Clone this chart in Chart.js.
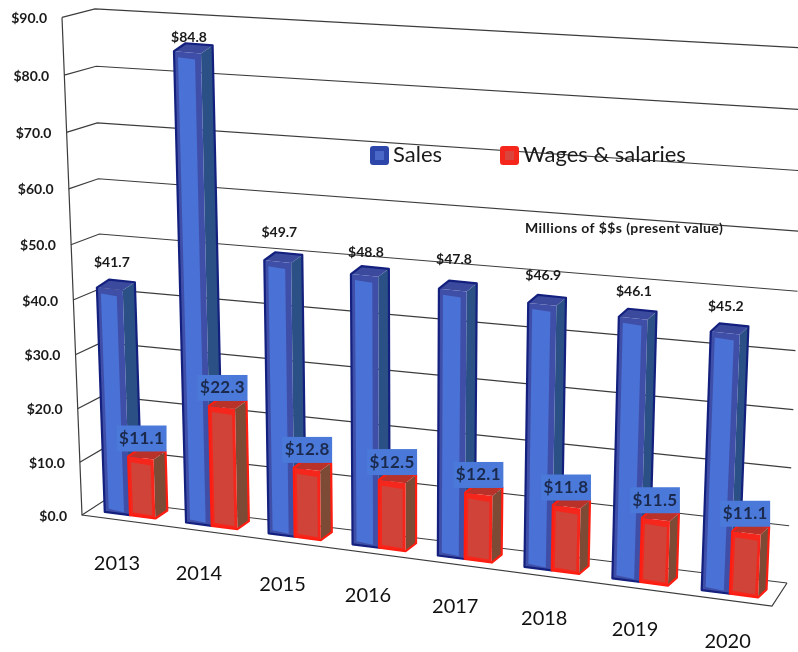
<!DOCTYPE html>
<html>
<head>
<meta charset="utf-8">
<script src="https://cdn.jsdelivr.net/npm/chart.js@4"></script>
<style>
  html, body { margin: 0; padding: 0; background: #fff; }
  canvas { display: block; }
</style>
</head>
<body>
<canvas id="chart" width="798" height="652"></canvas>
<script>
const years = ["2013", "2014", "2015", "2016", "2017", "2018", "2019", "2020"];
const sales = [41.7, 84.8, 49.7, 48.8, 47.8, 46.9, 46.1, 45.2];
const wages = [11.1, 22.3, 12.8, 12.5, 12.1, 11.8, 11.5, 11.1];
const yTicks = [0, 10, 20, 30, 40, 50, 60, 70, 80, 90];
const note = "Millions of $$s (present value)";

// scanned labels don't sit at a constant height over the bars
const salesLabelLift = [25, 14, 28, 22, 29, 27, 25, 25];

const FONT = "Lato, sans-serif";
const LINE = "#3c3c3c";

const SALES_STYLE = { front: "#3f4fa8", inner: "#4a72d6", side: "#2b5086", top: "#3c4a9e", edge: "#13207e", left: 4, right: 6 };
const WAGES_STYLE = { front: "#f5271c", inner: "#cf4339", side: "#7c4a35", top: "#b9322a", edge: "#ff1c10", left: 3, right: 3 };

// the floor of the tilted plot, in screen px
const floorX = (u) => 130 + 81 * u + 0.67 * u * u;
const floorY = (x) => 512 + 0.131 * (x - 106);
const heightAt = (x, v) => (5.25 + ((x - 106) / 595) * 0.33) * v + 0.0031 * v * v;
const lean = (x, h) => ((x - 403) / 8486) * h;

function toIndex(chart, px) {
  const xs = chart.scales.x;
  return (px - xs.left) / (xs.width / years.length) - 0.5;
}

function project(chart, px, py) {
  const v = chart.scales.y.getValueForPixel(py);
  const x = floorX(toIndex(chart, px));
  const h = heightAt(x, v);
  return { x: x + lean(x, h), y: floorY(x) - h };
}

function quad(ctx, pts, fill) {
  ctx.beginPath();
  pts.forEach((p, i) => (i ? ctx.lineTo(p.x, p.y) : ctx.moveTo(p.x, p.y)));
  ctx.closePath();
  ctx.fillStyle = fill;
  ctx.fill();
}

function barCorners(chart, el) {
  const l = el.x - el.width / 2;
  const r = el.x + el.width / 2;
  return {
    tl: project(chart, l, el.y),
    tr: project(chart, r, el.y),
    br: project(chart, r, el.base),
    bl: project(chart, l, el.base),
  };
}

function depthAt(chart, el) {
  return { x: 12 - 0.5 * toIndex(chart, el.x), y: -8 };
}

function drawBar(chart, el, st) {
  const ctx = chart.ctx;
  const { tl, tr, br, bl } = barCorners(chart, el);
  const d = depthAt(chart, el);
  const off = (p) => ({ x: p.x + d.x, y: p.y + d.y });

  ctx.save();
  quad(ctx, [br, off(br), off(tr), tr], st.side);
  quad(ctx, [tl, off(tl), off(tr), tr], st.top);
  quad(ctx, [tl, tr, br, bl], st.front);
  quad(
    ctx,
    [
      { x: tl.x + st.left, y: tl.y + 6 },
      { x: tr.x - st.right, y: tr.y + 6 },
      { x: br.x - st.right, y: br.y - 3 },
      { x: bl.x + st.left, y: bl.y - 3 },
    ],
    st.inner
  );
  ctx.beginPath();
  ctx.moveTo(bl.x, bl.y);
  ctx.lineTo(tl.x, tl.y);
  ctx.lineTo(off(tl).x, off(tl).y);
  ctx.lineTo(off(tr).x, off(tr).y);
  ctx.lineTo(off(br).x, off(br).y);
  ctx.lineTo(br.x, br.y);
  ctx.closePath();
  ctx.lineJoin = "round";
  ctx.lineWidth = 2.2;
  ctx.strokeStyle = st.edge;
  ctx.stroke();
  ctx.restore();
}

const tilted = {
  id: "tilted",
  beforeDatasetsDraw(chart) {
    const ctx = chart.ctx;
    const ys = chart.scales.y;
    ctx.save();
    ctx.strokeStyle = LINE;
    ctx.lineWidth = 1.2;

    const frontY = (v) => 515 - heightAt(106, v);

    ys.ticks.forEach((t) => {
      const v = ys.getValueForPixel(ys.getPixelForValue(t.value));
      const frac = v / 90;
      const fx = 82 - 20 * frac;
      const fy = frontY(v);
      const bx = 105 - 10 * frac;
      const by = 500 - 5.15 * v - 0.0034 * v * v;
      const rx = 787 + 19 * frac;
      const ry = 583 - 5.7 * v - 0.0027 * v * v;
      ctx.beginPath();
      ctx.moveTo(fx, fy);
      ctx.lineTo(bx, by);
      ctx.lineTo(rx, ry);
      ctx.stroke();

      ctx.fillStyle = "#1a1a1a";
      ctx.font = "bold 14px " + FONT;
      ctx.textAlign = "right";
      ctx.textBaseline = "middle";
      ctx.fillText(t.label, fx - 15, fy + 1);
    });

    // front axis and floor edge
    ctx.beginPath();
    ctx.moveTo(62, frontY(90));
    ctx.lineTo(82, frontY(0));
    ctx.lineTo(772, 606);
    ctx.lineTo(787, 583);
    ctx.stroke();

    ctx.fillStyle = "#111";
    ctx.font = "20px " + FONT;
    ctx.textAlign = "center";
    years.forEach((label, i) => {
      const x = floorX(i);
      ctx.fillText(label, x - 13 + 0.22 * i * i, floorY(x) + 48);
    });

    // legend
    chart.data.datasets.forEach((ds, i) => {
      const bx = i ? 500 : 370;
      ctx.beginPath();
      ctx.roundRect(bx, 146, 19, 19, 3);
      ctx.fillStyle = i ? "#f5271c" : "#2c46aa";
      ctx.fill();
      ctx.fillStyle = i ? "#d9453c" : "#4a68c8";
      ctx.fillRect(bx + 5, 151, 9, 9);
      ctx.fillStyle = "#1a1a1a";
      ctx.font = "22px " + FONT;
      ctx.textAlign = "left";
      ctx.fillText(ds.label, bx + 23, 155);
    });

    ctx.fillStyle = "#1a1a1a";
    ctx.font = "bold 14px " + FONT;
    ctx.letterSpacing = "0.4px";
    ctx.textAlign = "left";
    ctx.fillText(note, 525, 228);
    ctx.restore();
  },
  // bars are drawn together afterwards, sales first so wages sit in front
  beforeDatasetDraw() {
    return false;
  },
  afterDatasetsDraw(chart) {
    const ctx = chart.ctx;
    chart.getDatasetMeta(0).data.forEach((el) => drawBar(chart, el, SALES_STYLE));
    chart.getDatasetMeta(1).data.forEach((el) => drawBar(chart, el, WAGES_STYLE));

    ctx.save();
    ctx.textAlign = "center";
    ctx.textBaseline = "middle";

    chart.getDatasetMeta(0).data.forEach((el, i) => {
      const { tl } = barCorners(chart, el);
      ctx.fillStyle = "#1a1a1a";
      ctx.font = "bold 14px " + FONT;
      ctx.fillText("$" + sales[i].toFixed(1), tl.x + 15, tl.y - salesLabelLift[i]);
    });

    chart.getDatasetMeta(1).data.forEach((el, i) => {
      const { tr } = barCorners(chart, el);
      const d = depthAt(chart, el);
      const right = tr.x + d.x + 1;
      const bottom = tr.y + d.y;
      ctx.fillStyle = "#4a79d9";
      ctx.fillRect(right - 50, bottom - 26, 50, 26);
      ctx.fillStyle = "#1b2a4c";
      ctx.font = "bold 17px " + FONT;
      ctx.letterSpacing = "0.3px";
      ctx.fillText("$" + wages[i].toFixed(1), right - 25, bottom - 13);
      ctx.letterSpacing = "0px";
    });
    ctx.restore();
  },
};

new Chart(document.getElementById("chart"), {
  type: "bar",
  data: {
    labels: years,
    datasets: [
      { label: "Sales", data: sales, barThickness: 27, backgroundColor: SALES_STYLE.inner },
      { label: "Wages & salaries", data: wages, barThickness: 27, backgroundColor: WAGES_STYLE.inner },
    ],
  },
  options: {
    responsive: false,
    animation: false,
    layout: { padding: { left: 82, right: 16, top: 18, bottom: 137 } },
    plugins: { legend: { display: false }, tooltip: { enabled: false } },
    scales: {
      x: { grid: { display: false }, border: { display: false }, ticks: { display: false } },
      y: {
        min: 0,
        max: 90,
        grid: { display: false },
        border: { display: false },
        afterBuildTicks: (axis) => (axis.ticks = yTicks.map((value) => ({ value }))),
        ticks: { display: false, callback: (v) => "$" + v.toFixed(1) },
      },
    },
  },
  plugins: [tilted],
});
</script>
</body>
</html>
